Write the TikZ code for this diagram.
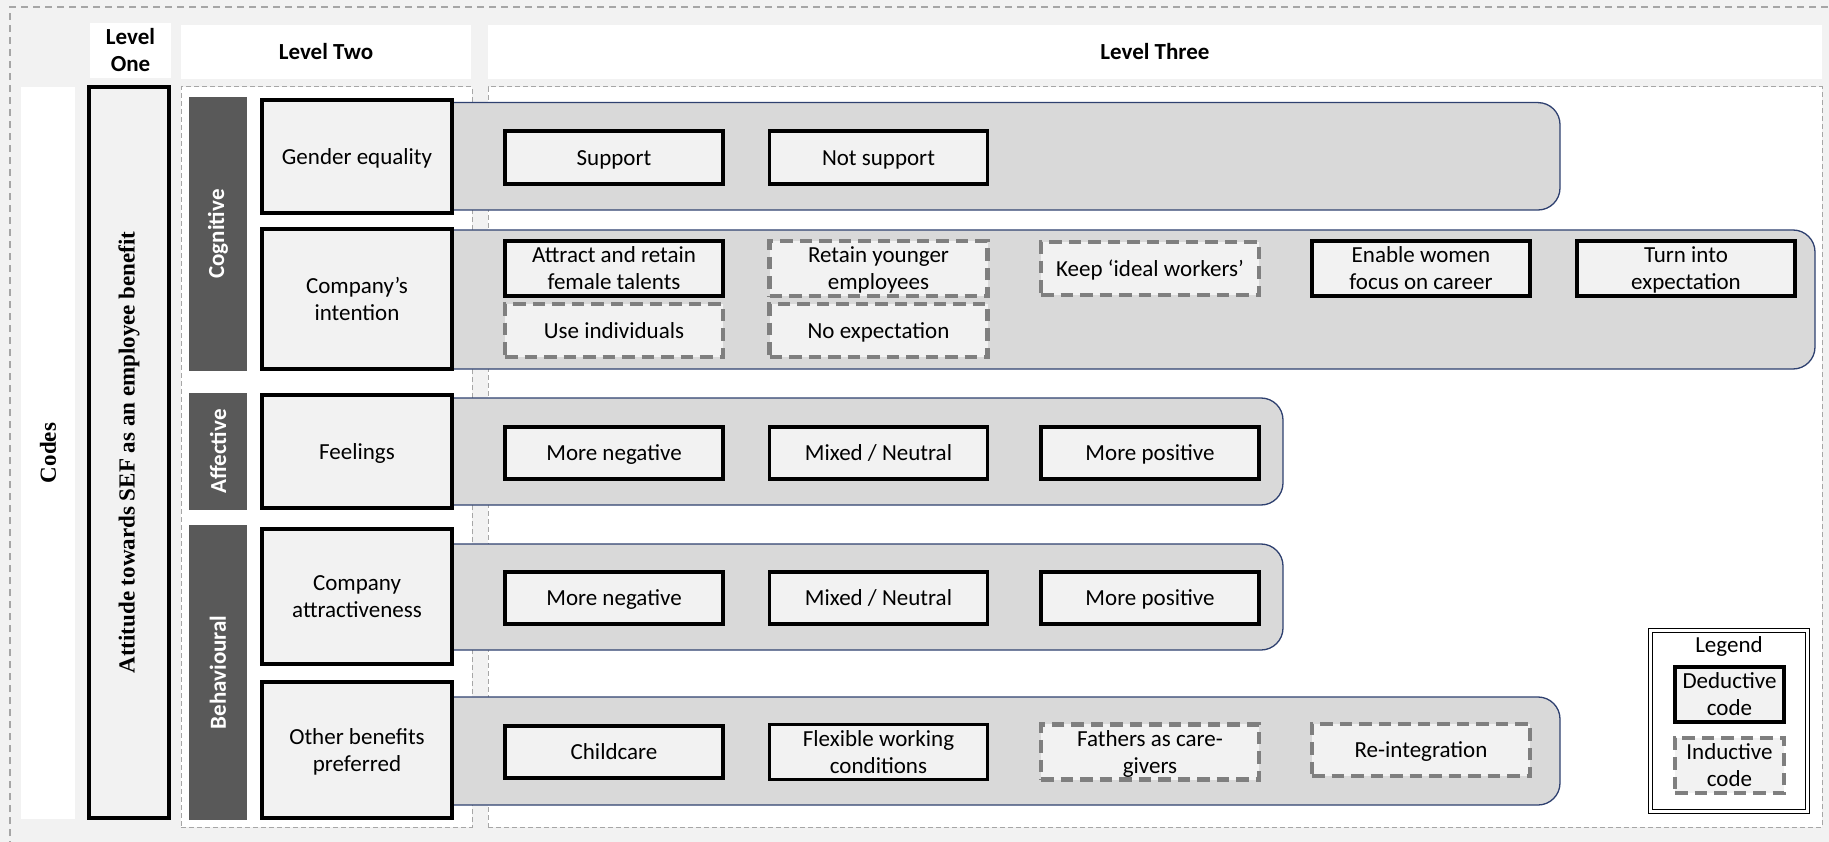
\documentclass[tikz,border=0pt]{standalone}
\usepackage{fontspec}
\setmainfont{Carlito}
\newfontfamily\timesfont{Liberation Serif}

\definecolor{canvas}{HTML}{F2F2F2}
\definecolor{boxfill}{HTML}{F2F2F2}
\definecolor{rowfill}{HTML}{D9D9D9}
\definecolor{rowline}{HTML}{2F4170}
\definecolor{darkbar}{HTML}{595959}
\definecolor{dashgray}{HTML}{A6A6A6}
\definecolor{inddash}{HTML}{7F7F7F}

% invisible rules that give every text line the font's full ascent and descent
\newcommand\lineascent{\rule{0pt}{21.9pt}}
\newcommand\linedescent{\rule[-6.2pt]{0pt}{6.2pt}}
\newcommand\onel[1]{\lineascent#1\linedescent}
\newcommand\twol[2]{\lineascent#1\\#2\linedescent}

\tikzset{
  x=1pt, y=-1pt,
  base/.style={inner sep=0pt, outer sep=0pt, align=center,
    font=\fontsize{23}{27}\selectfont},
  header/.style={base, fill=white, font=\fontsize{23}{27}\selectfont\bfseries},
  region/.style={base, fill=white, draw=dashgray, line width=1pt,
    dash pattern=on 5pt off 3pt},
  catbar/.style={base, fill=darkbar, text=white, rotate=90,
    font=\fontsize{23}{27}\selectfont\bfseries},
  rowbar/.style={base, fill=rowfill, draw=rowline, line width=1.3pt,
    rounded corners=22pt},
  deductive/.style={base, fill=boxfill, draw=black, line width=3.8pt},
  inductive/.style={base, fill=boxfill, draw=inddash, line width=4.2pt,
    dash pattern=on 12.5pt off 7pt},
  levelbox/.style={deductive, minimum width=190pt},
  codebox/.style={minimum width=218pt, minimum height=52.5pt},
  legendbox/.style={base, fill=white, draw=black, line width=0.9pt,
    double=white, double distance=2.3pt},
}

\begin{document}
\begin{tikzpicture}
\useasboundingbox (0,0) rectangle (1829,842);
\clip (0,0) rectangle (1829,842);
\fill[canvas] (0,0) rectangle (1829,842);
% frame around the whole table
\draw[dashgray, line width=1.2pt, dash pattern=on 7pt off 5pt] (10,860) |- (1840,7);

% column headers
\node[header, minimum width=81pt, minimum height=55pt] (h1) at (130.5,50.5) {\twol{Level}{One}};
\node[header, minimum width=290pt, minimum height=54pt] (h2) at (326,52) {\onel{Level Two}};
\node[header, minimum width=1334pt, minimum height=54pt] (h3) at (1155,52) {\onel{Level Three}};

% codes column and level one
\node[base, fill=white, rotate=90, minimum width=732pt, minimum height=54pt,
  font=\fontsize{23}{27}\timesfont\bfseries] (codes) at (48,453) {Codes};
\node[base, fill=boxfill, draw=black, line width=3.8pt, rotate=90,
  minimum width=731pt, minimum height=80pt,
  font=\fontsize{23}{27}\timesfont\bfseries] (lone) at (129,452.5)
  {Attitude towards SEF as an employee benefit};

% dashed regions of levels two and three
\node[region, minimum width=291pt, minimum height=740pt] (r2) at (326.5,457) {};
\node[region, minimum width=1334pt, minimum height=740pt] (r3) at (1155,457) {};

% attitude components
\node[catbar, minimum width=274pt, minimum height=58pt] (cog) at (218,234) {Cognitive};
\node[catbar, minimum width=117pt, minimum height=58pt] (aff) at (218,451.5) {Affective};
\node[catbar, minimum width=295pt, minimum height=58pt] (beh) at (218,672.5) {Behavioural};

% grey bands carrying the level three codes
\node[rowbar, minimum width=1160pt, minimum height=107.4pt] (row1) at (980,156.3) {};
\node[rowbar, minimum width=1415pt, minimum height=139pt] (row2) at (1107.5,299.5) {};
\node[rowbar, minimum width=883pt, minimum height=107pt] (row3) at (841.5,451.5) {};
\node[rowbar, minimum width=883pt, minimum height=106pt] (row4) at (841.5,597) {};
\node[rowbar, minimum width=1160pt, minimum height=108pt] (row5) at (980,751) {};

% level two codes
\node[levelbox, minimum height=113pt] (gender) at (357,156.5) {\onel{Gender equality}};
\node[levelbox, minimum height=140pt] (intent) at (357,299) {\twol{Company’s}{intention}};
\node[levelbox, minimum height=113pt] (feel) at (357,451.5) {\onel{Feelings}};
\node[levelbox, minimum height=135pt] (attr) at (357,596.5) {\twol{Company}{attractiveness}};
\node[levelbox, minimum height=136pt] (other) at (357,750) {\twol{Other benefits}{preferred}};

% level three codes
\node[deductive, codebox] (sup) at (614,157.5) {\onel{Support}};
\node[deductive, codebox] (nsup) at (878.5,157.5) {\onel{Not support}};

\node[deductive, codebox] (attract) at (614,268.5) {\twol{Attract and retain}{female talents}};
\node[inductive, codebox] (younger) at (878.5,268.5) {\twol{Retain younger}{employees}};
\node[inductive, codebox] (ideal) at (1150,268.5) {\onel{Keep ‘ideal workers’}};
\node[deductive, codebox] (enable) at (1421,268.5) {\twol{Enable women}{focus on career}};
\node[deductive, codebox] (turn) at (1686,268.5) {\twol{Turn into}{expectation}};
\node[inductive, codebox] (useind) at (614,330.5) {\onel{Use individuals}};
\node[inductive, codebox] (noexp) at (878.5,330.5) {\onel{No expectation}};

\node[deductive, codebox] (fneg) at (614,453) {\onel{More negative}};
\node[deductive, codebox] (fmix) at (878.5,453) {\onel{Mixed / Neutral}};
\node[deductive, codebox] (fpos) at (1150,453) {\onel{More positive}};

\node[deductive, codebox] (aneg) at (614,598) {\onel{More negative}};
\node[deductive, codebox] (amix) at (878.5,598) {\onel{Mixed / Neutral}};
\node[deductive, codebox] (apos) at (1150,598) {\onel{More positive}};

\node[deductive, codebox] (child) at (614,752) {\onel{Childcare}};
\node[deductive, codebox] (flex) at (878.5,752) {\twol{Flexible working}{conditions}};
\node[inductive, codebox] (fathers) at (1150,752) {\twol{Fathers as care-}{givers}};
\node[inductive, codebox] (reint) at (1421,750) {\onel{Re-integration}};

% legend
\node[legendbox, minimum width=157pt, minimum height=181pt] (legend) at (1729,721) {};
\node[base] (legtitle) at (1729,645) {\onel{Legend}};
\node[deductive, minimum width=109pt, minimum height=53pt] (legded) at (1729.5,694.5) {\twol{Deductive}{code}};
\node[inductive, minimum width=109pt, minimum height=53pt] (legind) at (1729.5,765.5) {\twol{Inductive}{code}};
\end{tikzpicture}
\end{document}
